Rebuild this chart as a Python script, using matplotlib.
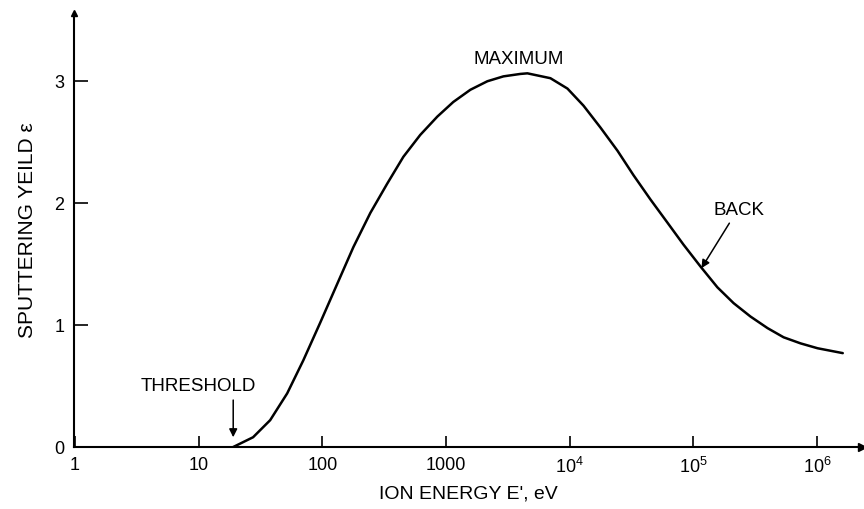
import matplotlib
matplotlib.use("Agg")
import matplotlib.pyplot as plt

plt.rcParams['font.family'] = ['Liberation Sans', 'DejaVu Sans']
plt.rcParams['mathtext.default'] = 'regular'

# sputtering yield curve
energy = [19.0, 27.5, 37.8, 51.9, 70, 96, 132, 178, 244, 334, 451, 618, 849, 1143,
          1570, 2155, 2904, 3981, 4540, 6970, 9570, 12900, 17700, 24300, 32700, 44900,
          61600, 83000, 114000, 156000, 211000, 289000, 397000, 535000, 734000,
          1007000, 1610000]
yield_ = [0.0, 0.08, 0.22, 0.44, 0.71, 1.02, 1.34, 1.64, 1.92, 2.16, 2.38, 2.56, 2.71, 2.83,
          2.93, 3.00, 3.04, 3.06, 3.065, 3.025, 2.94, 2.80, 2.62, 2.43, 2.23, 2.03,
          1.84, 1.66, 1.48, 1.31, 1.18, 1.07, 0.975, 0.90, 0.85,
          0.81, 0.77]

xticks = [1, 10, 100, 1000, 1e4, 1e5, 1e6]
xticklabels = ['1', '10', '100', '1000', '$10^4$', '$10^5$', '$10^6$']
yticks = [0, 1, 2, 3]

fig = plt.figure(figsize=(8.64, 5.09), dpi=100)
ax = fig.add_axes([0.0856, 0.1218, 0.912, 0.8527])

ax.plot(energy, yield_, color='black', lw=1.8, solid_capstyle='round',
        solid_joinstyle='round')

ax.set_xscale('log')
ax.set_xlim(0.98, 2.3e6)
ax.set_ylim(0, 3.56)

for s in ['top', 'right']:
    ax.spines[s].set_visible(False)
for s in ['left', 'bottom']:
    ax.spines[s].set_linewidth(1.5)

# arrow heads on the axes ends
ax.plot(1, 0, '>k', ms=6, transform=ax.transAxes, clip_on=False)
ax.plot(0, 1, '^k', ms=4, transform=ax.transAxes, clip_on=False)

ax.set_xticks(xticks)
ax.set_xticklabels(xticklabels)
ax.xaxis.set_minor_locator(matplotlib.ticker.NullLocator())
ax.set_yticks(yticks)
ax.tick_params(axis='x', direction='in', length=8, width=1.2, labelsize=13, pad=7)
ax.tick_params(axis='y', direction='in', length=10, width=1.2, labelsize=13, pad=7)

ax.set_xlabel("ION ENERGY E', eV", fontsize=14, labelpad=6)
ax.set_ylabel('SPUTTERING YEILD ε', fontsize=15, labelpad=12)

arrow = dict(arrowstyle='-|>', color='black', lw=1.1, mutation_scale=12,
             shrinkA=0, shrinkB=0)
ax.text(9.9, 0.43, 'THRESHOLD', ha='center', va='bottom', fontsize=13.5)
ax.annotate('', xy=(19, 0.08), xytext=(19, 0.385), arrowprops=arrow)
ax.text(3840, 3.107, 'MAXIMUM', ha='center', va='bottom', fontsize=13.5)
ax.text(145000, 1.87, 'BACK', ha='left', va='bottom', fontsize=13.5)
ax.annotate('', xy=(116000, 1.467), xytext=(195000, 1.836), arrowprops=arrow)

fig.savefig('out.png', dpi=100)
